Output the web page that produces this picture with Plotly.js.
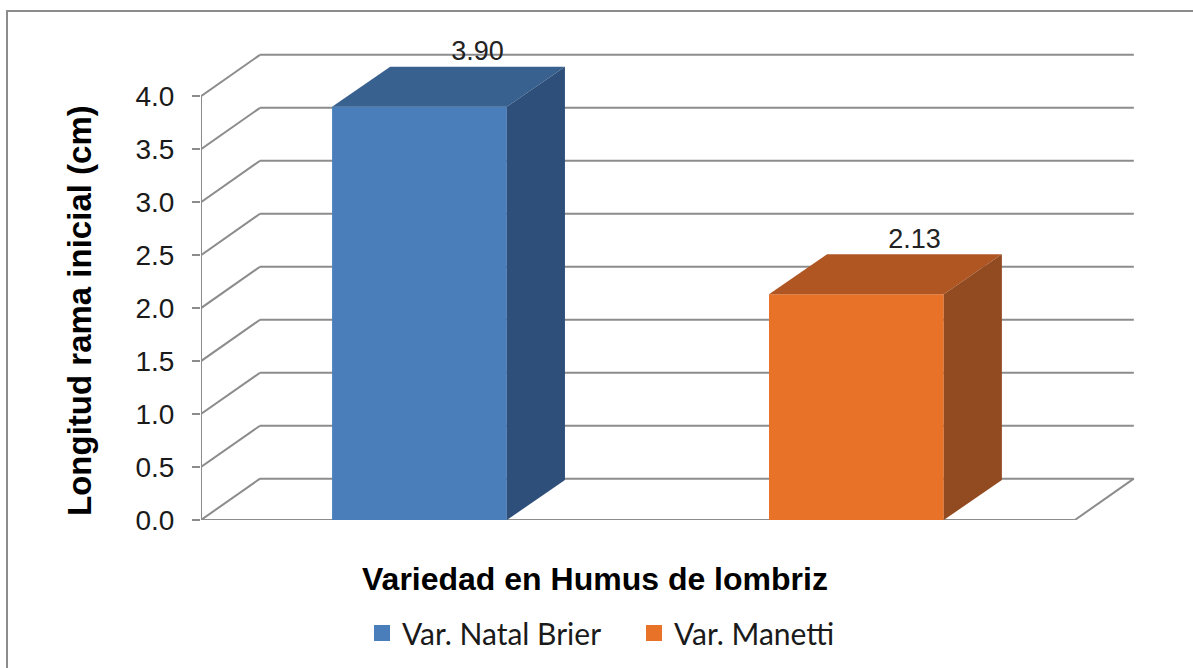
<!DOCTYPE html>
<html>
<head>
<meta charset="utf-8">
<script src="https://cdn.plot.ly/plotly-3.0.1.min.js"></script>
<style>
  html, body { margin:0; padding:0; background:#ffffff; overflow:hidden; }
  #frame { position:absolute; left:6px; top:10px; width:1200px; height:670px;
           border-left:2px solid #8c8c8c; border-top:2px solid #8c8c8c; }
  #chart { position:absolute; left:0; top:0; width:1193px; height:668px; }
</style>
</head>
<body>
<div id="frame"></div>
<div id="chart"></div>
<script>
// ---- data ----
const categories = ['Var. Natal Brier', 'Var. Manetti'];
const values = [3.90, 2.13];
const yTicks = [0, 0.5, 1.0, 1.5, 2.0, 2.5, 3.0, 3.5, 4.0];
const xTitle = 'Variedad en Humus de lombriz';
const yTitle = 'Longitud rama inicial (cm)';

// ---- styles ----
const frontColors = ['#4a7ebb', '#e87228'];
const topColors   = ['#38618f', '#af5623'];
const sideColors  = ['#2e4f79', '#924a20'];
const gridColor = '#8c8c8c';
const barWidth = 0.4;
const barDX = 0.133, barDY = 0.377;   // bar depth (oblique projection)
const gridDX = 0.135, gridDY = 0.39;  // wall depth
const xMin = -0.5, xMax = 1.672, yMax = 4.53;

const xPos = categories.map((c, i) => i);
const xFront0 = xMin, xFront1 = categories.length - 0.5;
const yTop = Math.max(...yTicks);

const traces = [];
// front faces
categories.forEach((c, i) => {
  traces.push({
    type: 'bar', x: [xPos[i]], y: [values[i]], width: barWidth,
    marker: { color: frontColors[i], line: { width: 0 } },
    showlegend: false, hoverinfo: 'skip', name: c
  });
});
// top and side faces
categories.forEach((c, i) => {
  const x0 = xPos[i] - barWidth / 2, x1 = xPos[i] + barWidth / 2, v = values[i];
  traces.push({
    type: 'scatter', mode: 'lines', fill: 'toself', fillcolor: topColors[i],
    x: [x0, x0 + barDX, x1 + barDX, x1, x0],
    y: [v, v + barDY, v + barDY, v, v],
    line: { width: 0, color: topColors[i] }, showlegend: false, hoverinfo: 'skip'
  });
  traces.push({
    type: 'scatter', mode: 'lines', fill: 'toself', fillcolor: sideColors[i],
    x: [x1, x1 + barDX, x1 + barDX, x1, x1],
    y: [0, barDY, v + barDY, v, 0],
    line: { width: 0, color: sideColors[i] }, showlegend: false, hoverinfo: 'skip'
  });
});
// value labels
traces.push({
  type: 'scatter', mode: 'text',
  x: xPos.map(x => x + barDX),
  y: values.map(v => v + barDY),
  text: values.map(v => v.toFixed(2)),
  textposition: 'top center',
  textfont: { family: 'Liberation Sans, Arial, sans-serif', size: 27, color: '#222222' },
  cliponaxis: false, showlegend: false, hoverinfo: 'skip'
});
// legend entries
categories.forEach((c, i) => {
  traces.push({
    type: 'scatter', mode: 'markers', x: [null], y: [null], name: c,
    marker: { symbol: 'square', size: 17, color: frontColors[i] },
    showlegend: true, hoverinfo: 'skip'
  });
});

// walls / grid
const shapes = [];
const gl = { color: gridColor, width: 2 };
yTicks.forEach(t => {
  shapes.push({ type: 'line', layer: 'below', xref: 'x', yref: 'y',
    x0: xFront0, y0: t, x1: xFront0 + gridDX, y1: t + gridDY, line: gl });
  shapes.push({ type: 'line', layer: 'below', xref: 'x', yref: 'y',
    x0: xFront0 + gridDX, y0: t + gridDY, x1: xFront1 + gridDX, y1: t + gridDY, line: gl });
});
// front axis line
shapes.push({ type: 'line', layer: 'below', xref: 'x', yref: 'y',
  x0: xFront0, y0: 0, x1: xFront0, y1: yTop, line: gl });
// floor front and right edges
shapes.push({ type: 'line', layer: 'below', xref: 'x', yref: 'y',
  x0: xFront0, y0: 0, x1: xFront1, y1: 0, line: gl });
shapes.push({ type: 'line', layer: 'below', xref: 'x', yref: 'y',
  x0: xFront1, y0: 0, x1: xFront1 + gridDX, y1: gridDY, line: gl });

const layout = {
  width: 1193, height: 668,
  margin: { l: 201, r: 43, t: 40, b: 148 },
  paper_bgcolor: 'rgba(0,0,0,0)', plot_bgcolor: 'rgba(0,0,0,0)',
  showlegend: true,
  xaxis: { range: [xMin, xMax], visible: false, fixedrange: true },
  yaxis: {
    range: [0, yMax], tickvals: yTicks, ticktext: yTicks.map(t => t.toFixed(1)),
    ticks: 'outside', ticklen: 8, tickwidth: 2, tickcolor: gridColor,
    showgrid: false, zeroline: false, showline: false,
    ticklabelstandoff: 12,
    tickfont: { family: 'Liberation Sans, Arial, sans-serif', size: 28, color: '#1a1a1a' },
    fixedrange: true
  },
  shapes: shapes,
  annotations: [
    { text: '<b>' + yTitle + '</b>', textangle: -90, xref: 'paper', yref: 'paper',
      x: -0.1286, y: 0.4375, xanchor: 'center', yanchor: 'middle', showarrow: false,
      font: { family: 'Liberation Sans, Arial, sans-serif', size: 33, color: '#000000' } },
    { text: '<b>' + xTitle + '</b>', xref: 'paper', yref: 'paper',
      x: (595 - 201) / 949, y: -(579 - 520) / 480, xanchor: 'center', yanchor: 'middle', showarrow: false,
      font: { family: 'Liberation Sans, Arial, sans-serif', size: 32, color: '#000000' } }
  ],
  legend: {
    orientation: 'h', xref: 'container', yref: 'container',
    x: 634 / 1193, y: 1 - 633 / 668, xanchor: 'center', yanchor: 'middle',
    entrywidth: 227,
    font: { family: 'Lato, sans-serif', size: 30, color: '#1a1a1a' },
    bgcolor: 'rgba(0,0,0,0)'
  }
};

Plotly.newPlot('chart', traces, layout, { displayModeBar: false, staticPlot: true });
</script>
</body>
</html>
